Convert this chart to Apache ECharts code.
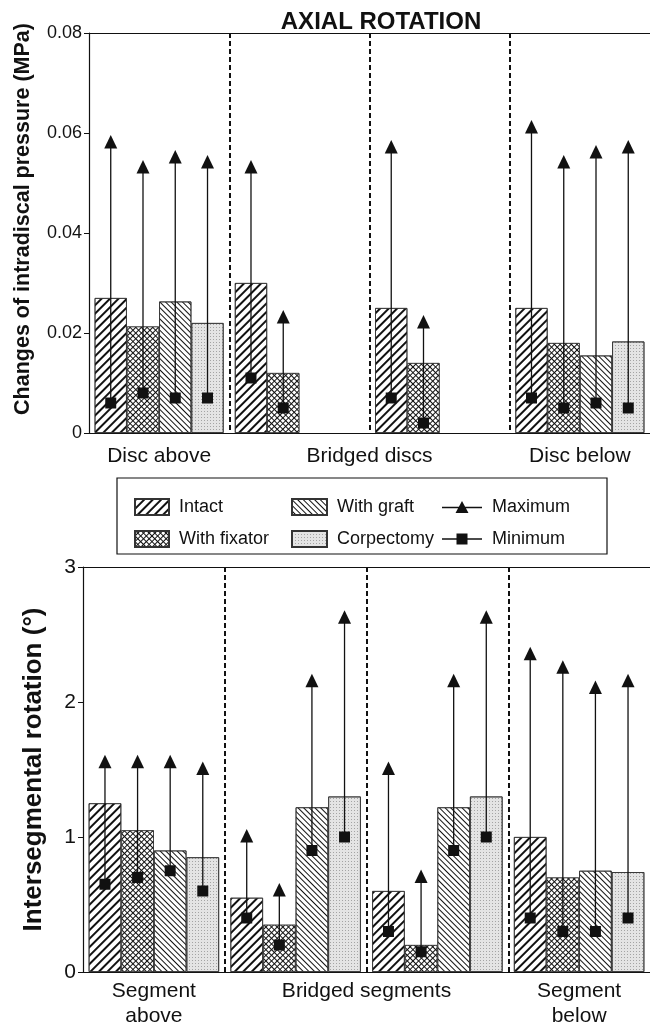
<!DOCTYPE html>
<html>
<head>
<meta charset="utf-8">
<title>Axial rotation</title>
<script src="https://cdn.jsdelivr.net/npm/echarts@6/dist/echarts.min.js"></script>
<style>
  html, body { margin: 0; padding: 0; background: #fff; }
  #chart { width: 650px; height: 1031px; }
</style>
</head>
<body>
<div id="chart"></div>
<script>
const conditions = ["Intact", "With fixator", "With graft", "Corpectomy"];

// top panel: intradiscal pressure (MPa)
const discGroups = ["Disc above", "Bridged discs", "", "Disc below"];
const discIntact = [0.027, 0.030, 0.025, 0.025];
const discFixator = [0.0213, 0.012, 0.014, 0.018];
const discGraft = [0.0263, null, null, 0.0155];
const discCorpectomy = [0.022, null, null, 0.0183];
const discMax = [
  [0.058, 0.053, 0.057, 0.061],
  [0.053, 0.023, 0.022, 0.054],
  [0.055, null, null, 0.056],
  [0.054, null, null, 0.057],
];
const discMin = [
  [0.006, 0.011, 0.007, 0.007],
  [0.008, 0.005, 0.002, 0.005],
  [0.007, null, null, 0.006],
  [0.007, null, null, 0.005],
];

// bottom panel: intersegmental rotation (deg)
const segGroups = ["Segment\nabove", "Bridged segments", "", "Segment\nbelow"];
const segIntact = [1.25, 0.55, 0.6, 1.0];
const segFixator = [1.05, 0.35, 0.2, 0.7];
const segGraft = [0.9, 1.22, 1.22, 0.75];
const segCorpectomy = [0.85, 1.3, 1.3, 0.74];
const segMax = [
  [1.55, 1.0, 1.5, 2.35],
  [1.55, 0.6, 0.7, 2.25],
  [1.55, 2.15, 2.15, 2.1],
  [1.5, 2.62, 2.62, 2.15],
];
const segMin = [
  [0.65, 0.4, 0.3, 0.4],
  [0.7, 0.2, 0.15, 0.3],
  [0.75, 0.9, 0.9, 0.3],
  [0.6, 1.0, 1.0, 0.4],
];

const FONT = "Liberation Sans";
const INK = "#111";
const CAT_GAP = 0.08;
const W = 650;
const grids = [
  { left: 89, right: 0, top: 33, height: 400 },
  { left: 83, right: 0, top: 567, height: 405 },
];

const decals = [
  { symbol: "rect", symbolSize: 1, symbolKeepAspect: false, color: INK,
    dashArrayX: [1, 0], dashArrayY: [2, 4], rotation: -Math.PI / 4 },
  { symbol: "rect", symbolSize: 1, symbolKeepAspect: false, color: "#fff", backgroundColor: INK,
    dashArrayX: [3, 1], dashArrayY: [3, 1], rotation: Math.PI / 4 },
  { symbol: "rect", symbolSize: 1, symbolKeepAspect: false, color: INK,
    dashArrayX: [1, 0], dashArrayY: [1, 3], rotation: Math.PI / 4 },
  { symbol: "rect", symbolSize: 1, symbolKeepAspect: false, color: "rgba(0,0,0,0.28)",
    dashArrayX: [1, 2], dashArrayY: [1, 2], rotation: 0 },
];
const fills = ["#fff", "#fff", "#fff", "#e4e4e4"];

function whisker(kind) {
  return function (params, api) {
    const cat = api.value(0);
    const slot = api.value(1);
    const band = api.size([1, 0])[0];
    const w = (band * (1 - CAT_GAP)) / 4;
    const x = api.coord([cat, 0])[0] + (slot - 1.5) * w;
    const yLo = api.coord([cat, api.value(2)])[1];
    const yHi = api.coord([cat, api.value(3)])[1];
    if (kind === "max") {
      return {
        type: "group",
        children: [
          { type: "line", shape: { x1: x, y1: yLo, x2: x, y2: yHi }, style: { stroke: INK, lineWidth: 1.3 } },
          { type: "polygon", shape: { points: [[x, yHi - 8], [x - 6.5, yHi + 5.5], [x + 6.5, yHi + 5.5]] }, style: { fill: INK } },
        ],
      };
    }
    return { type: "rect", shape: { x: x - 5.5, y: yLo - 5.5, width: 11, height: 11 }, style: { fill: INK } };
  };
}

function whiskerData(mins, maxs) {
  const out = [];
  maxs.forEach((row, s) => {
    row.forEach((hi, c) => {
      if (hi != null) out.push([c, s, mins[s][c], hi]);
    });
  });
  return out;
}

function catAxis(gridIndex, groups, fontSize, margin, lineHeight) {
  const g = grids[gridIndex];
  const catW = (W - g.left - g.right) / 4;
  return {
    type: "category",
    gridIndex,
    data: groups,
    axisLine: { lineStyle: { color: INK, width: 1.2 } },
    axisTick: { show: false },
    axisLabel: {
      interval: 0,
      margin,
      color: INK,
      fontFamily: FONT,
      fontSize,
      lineHeight,
      formatter: (v, i) => (i === 1 ? "{mid|" + v + "}" : v),
      rich: { mid: { padding: [0, 0, 0, catW], fontSize, fontFamily: FONT, color: INK } },
    },
  };
}

function frameAxis(gridIndex) {
  return {
    type: "value",
    gridIndex,
    position: "top",
    min: 0,
    max: 4,
    interval: 1,
    axisLine: { show: true, lineStyle: { color: INK, width: 1.2 } },
    axisTick: { show: false },
    axisLabel: { show: false },
    splitLine: {
      show: true,
      showMinLine: false,
      showMaxLine: false,
      lineStyle: { color: INK, width: 2, type: [5, 3] },
    },
  };
}

function valAxis(gridIndex, max, interval, name, nameSize, nameGap, labelSize, fmt, namePad) {
  return {
    type: "value",
    gridIndex,
    min: 0,
    max,
    interval,
    name,
    nameLocation: "middle",
    nameGap,
    nameTextStyle: { fontFamily: FONT, fontWeight: "bold", fontSize: nameSize, color: INK, padding: namePad },
    axisLine: { show: true, lineStyle: { color: INK, width: 1.2 } },
    axisTick: { show: true, length: 5, lineStyle: { color: INK } },
    axisLabel: { color: INK, fontFamily: FONT, fontSize: labelSize, margin: 7, formatter: fmt },
    splitLine: { show: false },
  };
}

const discBars = [discIntact, discFixator, discGraft, discCorpectomy];
const segBars = [segIntact, segFixator, segGraft, segCorpectomy];

const series = [];
[discBars, segBars].forEach((bars, gi) => {
  bars.forEach((vals, s) => {
    series.push({
      name: conditions[s],
      type: "bar",
      xAxisIndex: gi * 2,
      yAxisIndex: gi,
      data: vals,
      barGap: "0%",
      barCategoryGap: CAT_GAP * 100 + "%",
      itemStyle: { color: fills[s], borderColor: "#333", borderWidth: 0.8, decal: decals[s] },
      emphasis: { disabled: true },
    });
  });
});
[[discMin, discMax], [segMin, segMax]].forEach(([mins, maxs], gi) => {
  const data = whiskerData(mins, maxs);
  series.push({
    name: "Maximum", type: "custom", xAxisIndex: gi * 2, yAxisIndex: gi,
    renderItem: whisker("max"), data, encode: { x: 0, y: [2, 3] },
    itemStyle: { color: INK }, z: 5,
  });
  series.push({
    name: "Minimum", type: "custom", xAxisIndex: gi * 2, yAxisIndex: gi,
    renderItem: whisker("min"), data, encode: { x: 0, y: [2, 3] },
    itemStyle: { color: INK }, z: 6,
  });
});

const legendText = { fontFamily: FONT, fontSize: 18, color: INK, lineHeight: 20, padding: [0, 0, 0, 5] };
const maxIcon = "path://M0,7.3h40v1.4h-40z M20,1.5L26.5,13.5L13.5,13.5z";
const minIcon = "path://M0,7.3h40v1.4h-40z M14.5,2.5h11v11h-11z";

const option = {
  animation: false,
  textStyle: { fontFamily: FONT },
  title: {
    text: "AXIAL ROTATION",
    left: 376,
    top: 5,
    textAlign: "center",
    textStyle: { fontFamily: FONT, fontWeight: "bold", fontSize: 24, color: INK },
  },
  grid: grids,
  legend: [
    { data: ["Intact", "With fixator"], left: 129, top: 492, orient: "vertical",
      icon: "rect", itemWidth: 34, itemHeight: 16, itemGap: 12, selectedMode: false, textStyle: legendText },
    { data: ["With graft", "Corpectomy"], left: 286, top: 492, orient: "vertical",
      icon: "rect", itemWidth: 35, itemHeight: 16, itemGap: 12, selectedMode: false, textStyle: legendText },
    { data: [{ name: "Maximum", icon: maxIcon }, { name: "Minimum", icon: minIcon }], left: 437, top: 492,
      orient: "vertical", itemWidth: 40, itemHeight: 13, itemGap: 12, selectedMode: false, textStyle: legendText },
  ],
  graphic: [
    { type: "rect", shape: { x: 117, y: 478, width: 490, height: 76 },
      style: { fill: "none", stroke: INK, lineWidth: 1.2 } },
  ],
  xAxis: [
    catAxis(0, discGroups, 21, 11, 24),
    frameAxis(0),
    catAxis(1, segGroups, 21, 7, 25),
    frameAxis(1),
  ],
  yAxis: [
    valAxis(0, 0.08, 0.02, "Changes of intradiscal pressure (MPa)", 21.5, 55, 18,
      (v) => (v === 0 ? "0" : v.toFixed(2)), [0, 0, 0, 28]),
    valAxis(1, 3, 1, "Intersegmental rotation (\u00b0)", 26, 36, 21, (v) => String(v), 0),
  ],
  series,
};

const chart = echarts.init(document.getElementById("chart"), null, { renderer: "canvas" });
chart.setOption(option);
</script>
</body>
</html>
